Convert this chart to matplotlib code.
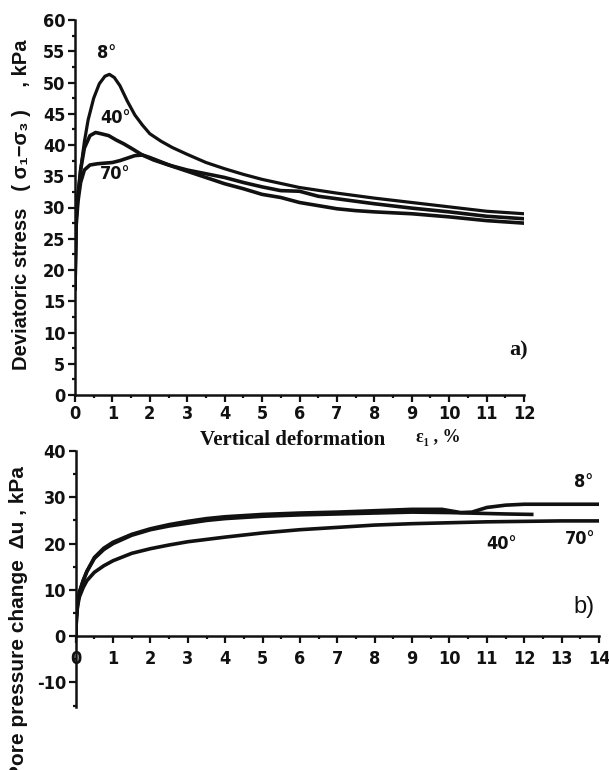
import numpy as np
import matplotlib
matplotlib.use("Agg")
import matplotlib.pyplot as plt
from matplotlib.ticker import MultipleLocator

# ---------------- data ----------------

# a) deviatoric stress vs vertical deformation
a_x_8 = [0, 0.03, 0.08, 0.15, 0.25, 0.35, 0.5, 0.65, 0.8, 0.92, 1.05, 1.2, 1.4, 1.6, 1.8,
         2.0, 2.3, 2.6, 3.0, 3.5, 4.0, 4.5, 5.0, 6.0, 7.0, 8.0, 9.0, 10.0, 11.0, 12.0]
a_y_8 = [17, 28, 32, 36, 40.5, 44, 47.5, 49.8, 51.0, 51.3, 50.8, 49.5, 47.0, 44.8, 43.2,
         41.8, 40.6, 39.6, 38.5, 37.2, 36.2, 35.3, 34.5, 33.2, 32.3, 31.5, 30.8, 30.1, 29.4, 29.0]

a_x_40 = [0, 0.03, 0.08, 0.15, 0.25, 0.4, 0.55, 0.7, 0.9, 1.1, 1.3, 1.5, 1.8, 2.1, 2.5,
          3.0, 3.5, 4.0, 4.5, 5.0, 5.5, 6.0, 6.5, 7.0, 8.0, 9.0, 10.0, 11.0, 12.0]
a_y_40 = [17, 28, 32, 36, 39.5, 41.5, 42.0, 41.8, 41.5, 40.8, 40.2, 39.5, 38.4, 37.6, 36.8,
          36.0, 35.4, 34.8, 34.0, 33.3, 32.7, 32.6, 31.8, 31.4, 30.6, 29.9, 29.3, 28.6, 28.2]

a_x_70 = [0, 0.03, 0.08, 0.15, 0.25, 0.4, 0.6, 0.8, 1.0, 1.2, 1.4, 1.6, 1.8, 2.0, 2.3, 2.6,
          3.0, 3.5, 4.0, 4.5, 5.0, 5.5, 6.0, 6.5, 7.0, 7.5, 8.0, 9.0, 10.0, 11.0, 12.0]
a_y_70 = [17, 27, 31, 34, 36, 36.8, 37.0, 37.1, 37.2, 37.5, 37.9, 38.3, 38.4, 38.0, 37.3, 36.6,
          35.8, 34.8, 33.8, 33.0, 32.1, 31.6, 30.8, 30.3, 29.8, 29.5, 29.3, 29.0, 28.5, 27.9, 27.5]

# b) pore pressure change vs vertical deformation
b_x_8 = [0, 0.02, 0.05, 0.1, 0.2, 0.3, 0.5, 0.75, 1.0, 1.5, 2.0, 2.5, 3.0, 3.5, 4.0, 5.0,
         6.0, 7.0, 8.0, 9.0, 9.8, 10.3, 10.6, 11.0, 11.5, 12.0, 13.0, 14.0]
b_y_8 = [0, 4, 7, 9.5, 12, 14, 17, 19, 20.3, 22.0, 23.2, 24.1, 24.8, 25.4, 25.8, 26.3,
         26.6, 26.8, 27.1, 27.4, 27.4, 26.7, 26.8, 27.8, 28.3, 28.5, 28.5, 28.5]

b_x_40 = [0, 0.02, 0.05, 0.1, 0.2, 0.3, 0.5, 0.75, 1.0, 1.5, 2.0, 2.5, 3.0, 3.5, 4.0, 5.0,
          6.0, 7.0, 8.0, 9.0, 10.0, 11.0, 11.5, 12.2]
b_y_40 = [0, 4, 7, 9.5, 12, 14, 16.8, 18.7, 20.0, 21.8, 23.0, 23.8, 24.4, 25.0, 25.4, 25.9,
          26.2, 26.4, 26.6, 26.8, 26.7, 26.5, 26.4, 26.3]

b_x_70 = [0, 0.02, 0.05, 0.1, 0.2, 0.3, 0.5, 0.75, 1.0, 1.5, 2.0, 2.5, 3.0, 3.5, 4.0, 5.0,
          6.0, 7.0, 8.0, 9.0, 10.0, 11.0, 12.0, 13.0, 14.0]
b_y_70 = [0, 4, 6.5, 8.5, 10.5, 12, 13.8, 15.2, 16.3, 17.9, 18.9, 19.7, 20.4, 20.9, 21.4, 22.3,
          23.0, 23.5, 24.0, 24.3, 24.5, 24.7, 24.8, 24.9, 24.9]

a_labels = ["8°", "40°", "70°"]
b_labels = ["8°", "40°", "70°"]

# ---------------- figure ----------------

plt.rcParams["font.family"] = ["DejaVu Sans"]
plt.rcParams["font.stretch"] = "condensed"
plt.rcParams["font.weight"] = "bold"
plt.rcParams["axes.unicode_minus"] = False

W, H = 609, 770
fig = plt.figure(figsize=(W / 100, H / 100), dpi=100)
fig.patch.set_facecolor("white")

ink = "#111111"
lab_font = dict(family=["DejaVu Sans"], weight="bold", size=13, color=ink)


def px_axes(x0, y0, x1, y1):
    # axes box from pixel corners (left, top, right, bottom)
    return fig.add_axes([x0 / W, 1 - y1 / H, (x1 - x0) / W, (y1 - y0) / H])


def style(ax, xmaj, ymaj, ymin):
    for s in ["top", "right"]:
        ax.spines[s].set_visible(False)
    for s in ["left", "bottom"]:
        ax.spines[s].set_linewidth(1.8)
        ax.spines[s].set_color(ink)
    ax.xaxis.set_major_locator(MultipleLocator(xmaj))
    ax.xaxis.set_minor_locator(MultipleLocator(xmaj / 2))
    ax.yaxis.set_major_locator(MultipleLocator(ymaj))
    ax.yaxis.set_minor_locator(MultipleLocator(ymin))
    ax.tick_params(which="major", direction="out", length=5, width=1.6, color=ink,
                   pad=2, labelsize=13, labelcolor=ink)
    ax.tick_params(which="minor", direction="out", length=2.5, width=1.6, color=ink)


# ---- panel a ----
ax1 = px_axes(75, 20, 524, 395)
ax1.plot(a_x_8, a_y_8, color=ink, lw=2.3, solid_joinstyle="round")
ax1.plot(a_x_40, a_y_40, color=ink, lw=2.6, solid_joinstyle="round")
ax1.plot(a_x_70, a_y_70, color=ink, lw=2.6, solid_joinstyle="round")
ax1.set_xlim(0, 12)
ax1.set_ylim(0, 60)
style(ax1, 1, 5, 2.5)

ax1.text(0.85, 54.8, a_labels[0], ha="center", va="center", **lab_font)
ax1.text(1.07, 44.3, a_labels[1], ha="center", va="center", **lab_font)
ax1.text(1.07, 35.3, a_labels[2], ha="center", va="center", **lab_font)
ax1.text(12.1, 7.2, "a)", ha="right", va="center", color=ink,
         family=["Liberation Serif", "DejaVu Serif"], weight="bold", size=16, stretch="normal")

# ---- panel b ----
ax2 = px_axes(75.7, 451, 599, 707)
ax2.plot(b_x_8, b_y_8, color=ink, lw=2.6, solid_joinstyle="round")
ax2.plot(b_x_40, b_y_40, color=ink, lw=2.6, solid_joinstyle="round")
ax2.plot(b_x_70, b_y_70, color=ink, lw=2.6, solid_joinstyle="round")
ax2.set_xlim(0, 14)
ax2.set_ylim(-15.3, 40)
ax2.spines["bottom"].set_position(("data", 0))
style(ax2, 1, 10, 5)
ax2.tick_params(axis="x", which="major", pad=5)

ax2.text(13.6, 33.2, b_labels[0], ha="center", va="center", **lab_font)
ax2.text(11.4, 20.0, b_labels[1], ha="center", va="center", **lab_font)
ax2.text(13.5, 21.0, b_labels[2], ha="center", va="center", **lab_font)
ax2.text(13.6, 6.4, "b)", ha="center", va="center", color=ink,
         family=["Liberation Sans", "DejaVu Sans"], weight="normal", stretch="normal", size=17)

# ---- axis titles ----
fig.text(293 / W, 1 - 440 / H, "Vertical deformation", ha="center", va="center",
         family=["Liberation Serif", "DejaVu Serif"], weight="bold", size=15,
         stretch="normal", color=ink)
fig.text(416 / W, 1 - 438 / H, "ε₁ , %", ha="left", va="center",
         family=["Liberation Serif", "DejaVu Serif"], weight="bold", size=13,
         stretch="normal", color=ink)

fig.text(22 / W, 1 - 205 / H, "Deviatoric stress   ( σ₁−σ₃ )    , kPa", rotation=90,
         ha="center", va="center", family=["Liberation Sans", "DejaVu Sans"],
         weight="bold", size=14.5, stretch="normal", color=ink)
fig.text(19 / W, 1 - 466 / H, "Pore pressure change  Δu , kPa", rotation=90,
         ha="center", va="top", family=["Liberation Sans", "DejaVu Sans"],
         weight="bold", size=15, stretch="normal", color=ink)

fig.savefig("out.png", dpi=100)
